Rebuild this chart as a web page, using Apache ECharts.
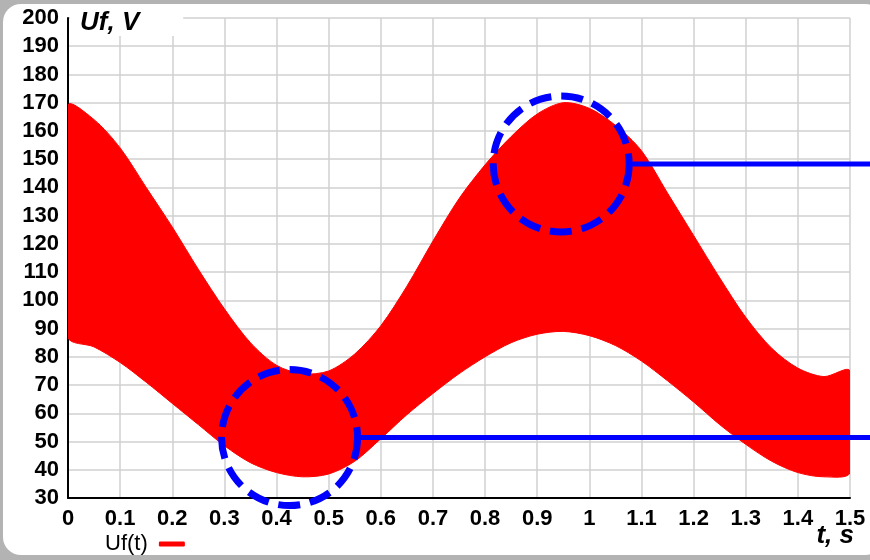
<!DOCTYPE html>
<html>
<head>
<meta charset="utf-8">
<script src="https://cdn.jsdelivr.net/npm/echarts@6/dist/echarts.min.js"></script>
<style>
  html, body { margin: 0; padding: 0; background: #b3b3b3; }
  #panel { position: absolute; left: 3px; top: 4px; width: 880px; height: 551px; background: #fff; border-radius: 18px; }
  #chart { position: absolute; left: 0; top: 0; width: 870px; height: 560px; }
</style>
</head>
<body>
<div id="panel"></div>
<div id="chart"></div>
<script>
// time samples, s
const tData = [0, 0.05, 0.1, 0.15, 0.2, 0.25, 0.3, 0.35, 0.4, 0.45, 0.5, 0.55, 0.6, 0.65, 0.7, 0.75,
  0.8, 0.85, 0.9, 0.95, 1.0, 1.05, 1.1, 1.15, 1.2, 1.25, 1.3, 1.35, 1.4, 1.45, 1.5]
// upper / lower envelope of Uf(t), V
const upperEnv = [169, 164, 154, 140, 126, 111, 97, 85, 77, 74, 75, 81, 91, 105, 121, 136,
  148, 158, 166, 170, 168, 162, 153, 138, 123, 108, 94, 83, 76, 73, 75]
const lowerEnv = [87, 83.5, 78, 71, 63.5, 56, 48.5, 42.5, 39, 37.5, 38.5, 43, 51, 59.5, 67, 74,
  80, 85, 88, 89, 87.5, 84, 78.5, 71.5, 64, 56, 49, 43, 39, 37.5, 39]
// highlighted zones (centre t, Uf)
const zoneT = [0.425, 0.946]
const zoneU = [51.4, 148.3]

const font = 'Liberation Sans, Arial, sans-serif'
const chart = echarts.init(document.getElementById('chart'))

// the band: upper envelope left to right, then lower envelope back
const bandItem = (params, api) => {
  if (params.dataIndex !== 0) return null
  const top = tData.map((t, i) => api.coord([t, upperEnv[i]]))
  const bot = tData.map((t, i) => api.coord([t, lowerEnv[i]])).reverse()
  return { type: 'polygon', shape: { points: top.concat(bot), smooth: 0.3 },
    style: { fill: '#ff0000', stroke: '#ff0000', lineWidth: 1 } }
}

const option = {
  animation: false,
  grid: { left: 68, right: 20, top: 18, bottom: 62 },
  title: [
    { text: 'Uf, V', left: 70, top: 6, padding: [5, 44, 0, 10], backgroundColor: '#fff', z: 10,
      textStyle: { fontFamily: font, fontSize: 26, fontWeight: 'bold', fontStyle: 'italic', color: '#000', lineHeight: 24 } },
    { text: 't, s', right: 16, top: 523, padding: 0,
      textStyle: { fontFamily: font, fontSize: 26, fontWeight: 'bold', fontStyle: 'italic', color: '#000' } }
  ],
  legend: {
    data: ['Uf(t)'], left: 100, top: 528, align: 'right', icon: 'roundRect', itemWidth: 26, itemHeight: 5,
    formatter: n => n + ' ',
    textStyle: { fontFamily: font, fontSize: 22, color: '#000' }
  },
  xAxis: {
    type: 'value', min: 0, max: 1.5, interval: 0.1,
    axisLine: { show: true, onZero: false, lineStyle: { color: '#000', width: 2 } },
    axisTick: { show: false },
    axisLabel: { margin: 10, fontFamily: font, fontSize: 22, fontWeight: 'bold', color: '#000',
      formatter: v => String(+v.toFixed(1)) },
    splitLine: { show: true, lineStyle: { color: '#d0d0d0', width: 1.5 } }
  },
  yAxis: {
    type: 'value', min: 30, max: 200, interval: 10,
    axisLine: { show: true, lineStyle: { color: '#000', width: 2 } },
    axisTick: { show: false },
    axisLabel: { margin: 9, fontFamily: font, fontSize: 22, fontWeight: 'bold', color: '#000' },
    splitLine: { show: true, lineStyle: { color: '#d0d0d0', width: 1.5 } }
  },
  series: [
    { name: 'Uf(t)', type: 'custom', clip: true, itemStyle: { color: '#ff0000' },
      renderItem: bandItem, encode: { x: 0, y: [1, 2] },
      data: tData.map((t, i) => [t, lowerEnv[i], upperEnv[i]]) }
  ]
}
chart.setOption(option)

// dashed circles and leader lines, placed through the chart's scales
const r = 68
const marks = []
zoneT.forEach((t, i) => {
  const p = chart.convertToPixel({ gridIndex: 0 }, [t, zoneU[i]])
  marks.push({ type: 'line', z: 20, shape: { x1: p[0] + r, y1: p[1], x2: 870, y2: p[1] },
    style: { stroke: '#0000ff', lineWidth: 5 } })
  marks.push({ type: 'circle', z: 21, shape: { cx: p[0], cy: p[1], r: r },
    style: { fill: null, stroke: '#0000ff', lineWidth: 7, lineDash: [22, 10] } })
})
chart.setOption({ graphic: marks })
</script>
</body>
</html>
